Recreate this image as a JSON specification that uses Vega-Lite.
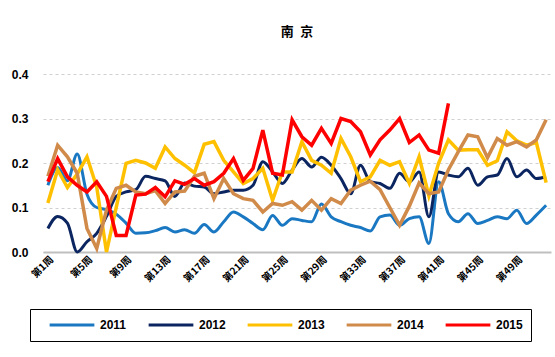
{
  "$schema": "https://vega.github.io/schema/vega-lite/v6.json",
  "width": 508,
  "height": 178,
  "autosize": {"type": "none"},
  "padding": {"left": 43, "top": 74, "right": 4, "bottom": 105},
  "background": "white",
  "title": {"text": "南\u2002京", "fontSize": 13, "fontWeight": "bold", "font": "Noto Sans CJK SC", "anchor": "middle", "offset": 29, "color": "#000000"},
  "config": {"view": {"stroke": null}},
  "data": {"values": [
    {"year":"2011","week":1,"value":0.15},{"year":"2011","week":2,"value":0.19},{"year":"2011","week":3,"value":0.16},{"year":"2011","week":4,"value":0.22},{"year":"2011","week":5,"value":0.13},{"year":"2011","week":6,"value":0.1},{"year":"2011","week":7,"value":0.095},{"year":"2011","week":8,"value":0.085},{"year":"2011","week":9,"value":0.065},{"year":"2011","week":10,"value":0.042},{"year":"2011","week":11,"value":0.043},{"year":"2011","week":12,"value":0.048},{"year":"2011","week":13,"value":0.055},{"year":"2011","week":14,"value":0.045},{"year":"2011","week":15,"value":0.05},{"year":"2011","week":16,"value":0.042},{"year":"2011","week":17,"value":0.062},{"year":"2011","week":18,"value":0.045},{"year":"2011","week":19,"value":0.068},{"year":"2011","week":20,"value":0.09},{"year":"2011","week":21,"value":0.079},{"year":"2011","week":22,"value":0.064},{"year":"2011","week":23,"value":0.05},{"year":"2011","week":24,"value":0.082},{"year":"2011","week":25,"value":0.06},{"year":"2011","week":26,"value":0.075},{"year":"2011","week":27,"value":0.071},{"year":"2011","week":28,"value":0.068},{"year":"2011","week":29,"value":0.108},{"year":"2011","week":30,"value":0.079},{"year":"2011","week":31,"value":0.068},{"year":"2011","week":32,"value":0.06},{"year":"2011","week":33,"value":0.055},{"year":"2011","week":34,"value":0.047},{"year":"2011","week":35,"value":0.079},{"year":"2011","week":36,"value":0.083},{"year":"2011","week":37,"value":0.06},{"year":"2011","week":38,"value":0.075},{"year":"2011","week":39,"value":0.079},{"year":"2011","week":40,"value":0.019},{"year":"2011","week":41,"value":0.158},{"year":"2011","week":42,"value":0.086},{"year":"2011","week":43,"value":0.068},{"year":"2011","week":44,"value":0.086},{"year":"2011","week":45,"value":0.064},{"year":"2011","week":46,"value":0.071},{"year":"2011","week":47,"value":0.079},{"year":"2011","week":48,"value":0.075},{"year":"2011","week":49,"value":0.094},{"year":"2011","week":50,"value":0.064},{"year":"2011","week":51,"value":0.083},{"year":"2011","week":52,"value":0.105},
    {"year":"2012","week":1,"value":0.053},{"year":"2012","week":2,"value":0.08},{"year":"2012","week":3,"value":0.065},{"year":"2012","week":4,"value":0.0},{"year":"2012","week":5,"value":0.023},{"year":"2012","week":6,"value":0.042},{"year":"2012","week":7,"value":0.08},{"year":"2012","week":8,"value":0.125},{"year":"2012","week":9,"value":0.135},{"year":"2012","week":10,"value":0.14},{"year":"2012","week":11,"value":0.17},{"year":"2012","week":12,"value":0.165},{"year":"2012","week":13,"value":0.16},{"year":"2012","week":14,"value":0.125},{"year":"2012","week":15,"value":0.155},{"year":"2012","week":16,"value":0.148},{"year":"2012","week":17,"value":0.146},{"year":"2012","week":18,"value":0.131},{"year":"2012","week":19,"value":0.135},{"year":"2012","week":20,"value":0.139},{"year":"2012","week":21,"value":0.139},{"year":"2012","week":22,"value":0.15},{"year":"2012","week":23,"value":0.203},{"year":"2012","week":24,"value":0.18},{"year":"2012","week":25,"value":0.154},{"year":"2012","week":26,"value":0.184},{"year":"2012","week":27,"value":0.21},{"year":"2012","week":28,"value":0.191},{"year":"2012","week":29,"value":0.213},{"year":"2012","week":30,"value":0.195},{"year":"2012","week":31,"value":0.165},{"year":"2012","week":32,"value":0.131},{"year":"2012","week":33,"value":0.195},{"year":"2012","week":34,"value":0.158},{"year":"2012","week":35,"value":0.154},{"year":"2012","week":36,"value":0.143},{"year":"2012","week":37,"value":0.177},{"year":"2012","week":38,"value":0.158},{"year":"2012","week":39,"value":0.18},{"year":"2012","week":40,"value":0.079},{"year":"2012","week":41,"value":0.18},{"year":"2012","week":42,"value":0.173},{"year":"2012","week":43,"value":0.169},{"year":"2012","week":44,"value":0.188},{"year":"2012","week":45,"value":0.15},{"year":"2012","week":46,"value":0.169},{"year":"2012","week":47,"value":0.173},{"year":"2012","week":48,"value":0.21},{"year":"2012","week":49,"value":0.169},{"year":"2012","week":50,"value":0.184},{"year":"2012","week":51,"value":0.165},{"year":"2012","week":52,"value":0.169},
    {"year":"2013","week":1,"value":0.11},{"year":"2013","week":2,"value":0.185},{"year":"2013","week":3,"value":0.145},{"year":"2013","week":4,"value":0.175},{"year":"2013","week":5,"value":0.214},{"year":"2013","week":6,"value":0.146},{"year":"2013","week":7,"value":0.0},{"year":"2013","week":8,"value":0.101},{"year":"2013","week":9,"value":0.199},{"year":"2013","week":10,"value":0.206},{"year":"2013","week":11,"value":0.2},{"year":"2013","week":12,"value":0.188},{"year":"2013","week":13,"value":0.236},{"year":"2013","week":14,"value":0.21},{"year":"2013","week":15,"value":0.195},{"year":"2013","week":16,"value":0.178},{"year":"2013","week":17,"value":0.242},{"year":"2013","week":18,"value":0.248},{"year":"2013","week":19,"value":0.206},{"year":"2013","week":20,"value":0.18},{"year":"2013","week":21,"value":0.154},{"year":"2013","week":22,"value":0.165},{"year":"2013","week":23,"value":0.188},{"year":"2013","week":24,"value":0.116},{"year":"2013","week":25,"value":0.18},{"year":"2013","week":26,"value":0.18},{"year":"2013","week":27,"value":0.248},{"year":"2013","week":28,"value":0.206},{"year":"2013","week":29,"value":0.195},{"year":"2013","week":30,"value":0.177},{"year":"2013","week":31,"value":0.255},{"year":"2013","week":32,"value":0.214},{"year":"2013","week":33,"value":0.158},{"year":"2013","week":34,"value":0.169},{"year":"2013","week":35,"value":0.206},{"year":"2013","week":36,"value":0.195},{"year":"2013","week":37,"value":0.203},{"year":"2013","week":38,"value":0.154},{"year":"2013","week":39,"value":0.214},{"year":"2013","week":40,"value":0.126},{"year":"2013","week":41,"value":0.2},{"year":"2013","week":42,"value":0.252},{"year":"2013","week":43,"value":0.229},{"year":"2013","week":44,"value":0.23},{"year":"2013","week":45,"value":0.23},{"year":"2013","week":46,"value":0.195},{"year":"2013","week":47,"value":0.205},{"year":"2013","week":48,"value":0.27},{"year":"2013","week":49,"value":0.25},{"year":"2013","week":50,"value":0.24},{"year":"2013","week":51,"value":0.246},{"year":"2013","week":52,"value":0.156},
    {"year":"2014","week":1,"value":0.17},{"year":"2014","week":2,"value":0.24},{"year":"2014","week":3,"value":0.214},{"year":"2014","week":4,"value":0.177},{"year":"2014","week":5,"value":0.053},{"year":"2014","week":6,"value":0.008},{"year":"2014","week":7,"value":0.094},{"year":"2014","week":8,"value":0.143},{"year":"2014","week":9,"value":0.15},{"year":"2014","week":10,"value":0.135},{"year":"2014","week":11,"value":0.131},{"year":"2014","week":12,"value":0.138},{"year":"2014","week":13,"value":0.109},{"year":"2014","week":14,"value":0.135},{"year":"2014","week":15,"value":0.137},{"year":"2014","week":16,"value":0.17},{"year":"2014","week":17,"value":0.177},{"year":"2014","week":18,"value":0.12},{"year":"2014","week":19,"value":0.165},{"year":"2014","week":20,"value":0.131},{"year":"2014","week":21,"value":0.12},{"year":"2014","week":22,"value":0.116},{"year":"2014","week":23,"value":0.09},{"year":"2014","week":24,"value":0.109},{"year":"2014","week":25,"value":0.105},{"year":"2014","week":26,"value":0.113},{"year":"2014","week":27,"value":0.094},{"year":"2014","week":28,"value":0.116},{"year":"2014","week":29,"value":0.094},{"year":"2014","week":30,"value":0.12},{"year":"2014","week":31,"value":0.109},{"year":"2014","week":32,"value":0.139},{"year":"2014","week":33,"value":0.15},{"year":"2014","week":34,"value":0.159},{"year":"2014","week":35,"value":0.14},{"year":"2014","week":36,"value":0.1},{"year":"2014","week":37,"value":0.06},{"year":"2014","week":38,"value":0.103},{"year":"2014","week":39,"value":0.155},{"year":"2014","week":40,"value":0.131},{"year":"2014","week":41,"value":0.135},{"year":"2014","week":42,"value":0.185},{"year":"2014","week":43,"value":0.225},{"year":"2014","week":44,"value":0.263},{"year":"2014","week":45,"value":0.259},{"year":"2014","week":46,"value":0.212},{"year":"2014","week":47,"value":0.255},{"year":"2014","week":48,"value":0.24},{"year":"2014","week":49,"value":0.248},{"year":"2014","week":50,"value":0.236},{"year":"2014","week":51,"value":0.252},{"year":"2014","week":52,"value":0.297},
    {"year":"2015","week":1,"value":0.158},{"year":"2015","week":2,"value":0.21},{"year":"2015","week":3,"value":0.169},{"year":"2015","week":4,"value":0.15},{"year":"2015","week":5,"value":0.135},{"year":"2015","week":6,"value":0.158},{"year":"2015","week":7,"value":0.125},{"year":"2015","week":8,"value":0.037},{"year":"2015","week":9,"value":0.037},{"year":"2015","week":10,"value":0.128},{"year":"2015","week":11,"value":0.13},{"year":"2015","week":12,"value":0.145},{"year":"2015","week":13,"value":0.124},{"year":"2015","week":14,"value":0.16},{"year":"2015","week":15,"value":0.152},{"year":"2015","week":16,"value":0.165},{"year":"2015","week":17,"value":0.15},{"year":"2015","week":18,"value":0.158},{"year":"2015","week":19,"value":0.177},{"year":"2015","week":20,"value":0.21},{"year":"2015","week":21,"value":0.161},{"year":"2015","week":22,"value":0.188},{"year":"2015","week":23,"value":0.274},{"year":"2015","week":24,"value":0.177},{"year":"2015","week":25,"value":0.173},{"year":"2015","week":26,"value":0.297},{"year":"2015","week":27,"value":0.259},{"year":"2015","week":28,"value":0.24},{"year":"2015","week":29,"value":0.278},{"year":"2015","week":30,"value":0.244},{"year":"2015","week":31,"value":0.3},{"year":"2015","week":32,"value":0.293},{"year":"2015","week":33,"value":0.27},{"year":"2015","week":34,"value":0.218},{"year":"2015","week":35,"value":0.252},{"year":"2015","week":36,"value":0.274},{"year":"2015","week":37,"value":0.3},{"year":"2015","week":38,"value":0.246},{"year":"2015","week":39,"value":0.263},{"year":"2015","week":40,"value":0.229},{"year":"2015","week":41,"value":0.222},{"year":"2015","week":42,"value":0.334}
  ]},
  "encoding": {
    "x": {"field": "week", "type": "quantitative",
      "scale": {"domain": [0.5, 52.5], "nice": false, "zero": false},
      "axis": {"title": null, "values": [1,5,9,13,17,21,25,29,33,37,41,45,49],
        "labelExpr": "'第' + datum.value + '周'", "labelAngle": -45, "labelAlign": "right", "labelBaseline": "top",
        "labelFont": "Noto Sans CJK SC", "labelFontSize": 10, "labelFontWeight": "bold", "labelColor": "#000000",
        "labelPadding": 2, "ticks": false, "grid": false, "domainColor": "#BFBFBF", "domainWidth": 2}},
    "y": {"field": "value", "type": "quantitative",
      "scale": {"domain": [0, 0.4], "nice": false},
      "axis": {"title": null, "values": [0, 0.1, 0.2, 0.3, 0.4], "format": ".1f",
        "labelFont": "Liberation Sans", "labelFontSize": 12, "labelFontWeight": "bold", "labelColor": "#000000",
        "labelPadding": 15, "ticks": false, "domain": false, "grid": true, "gridColor": "#D0D0D0", "gridDash": [3, 3], "gridWidth": 1}},
    "color": {"field": "year", "type": "nominal",
      "scale": {"domain": ["2011","2012","2013","2014","2015"], "range": ["#1A78C2","#0B2560","#FFC000","#D08A4A","#FF0000"]},
      "legend": {"title": null, "orient": "none", "legendX": -13, "legendY": 235, "direction": "horizontal",
        "symbolType": "stroke", "symbolSize": 2000, "symbolStrokeWidth": 3, "symbolOffset": 10, "clipHeight": 16,
        "labelFont": "Liberation Sans", "labelFontSize": 12, "labelFontWeight": "bold", "labelColor": "#000000", "labelOffset": 4,
        "columnPadding": 10, "padding": 8, "strokeColor": "#000000", "fillColor": "white"}}
  },
  "layer": [
    {"transform": [{"filter": "datum.year == '2011' || datum.year == '2012'"}],
     "mark": {"type": "line", "interpolate": "monotone", "strokeWidth": 3}},
    {"transform": [{"filter": "datum.year != '2011' && datum.year != '2012'"}],
     "mark": {"type": "line", "strokeWidth": 3.5}}
  ]
}
